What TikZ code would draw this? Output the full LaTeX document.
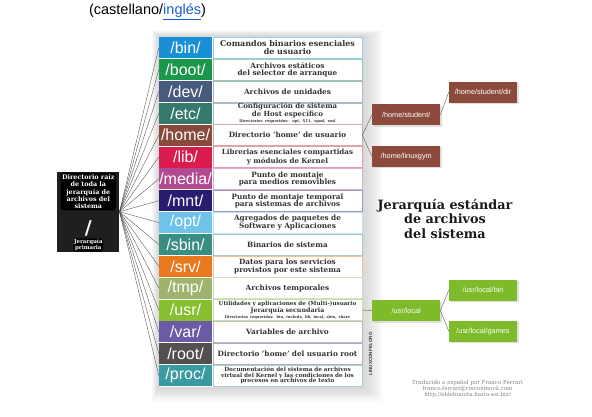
\documentclass[tikz,border=0pt]{standalone}
\usepackage{fontspec}
\setmainfont{DejaVu Serif}
\setsansfont{Liberation Sans}
\usetikzlibrary{shadows}

\definecolor{cbin}{HTML}{1A8FD6}
\definecolor{cboot}{HTML}{19974A}
\definecolor{cdev}{HTML}{485A7E}
\definecolor{cetc}{HTML}{367A6C}
\definecolor{chome}{HTML}{894A3C}
\definecolor{clib}{HTML}{D91C4C}
\definecolor{cmedia}{HTML}{B24A91}
\definecolor{cmnt}{HTML}{281C6E}
\definecolor{copt}{HTML}{6FC2EA}
\definecolor{csbin}{HTML}{3A8D82}
\definecolor{csrv}{HTML}{E8791E}
\definecolor{ctmp}{HTML}{9CB46E}
\definecolor{cusr}{HTML}{86C031}
\definecolor{cvar}{HTML}{6B5AA6}
\definecolor{croot}{HTML}{545050}
\definecolor{cproc}{HTML}{3A9AA2}
\definecolor{csubhome}{HTML}{8B4A3C}
\definecolor{csubusr}{HTML}{7DBB2A}
\definecolor{linkblue}{HTML}{1A5FD0}

\newcommand{\tinyline}[1]{{\fontsize{3.7}{4}\selectfont #1}}

\tikzset{
  dirbox/.style={rectangle, minimum width=53pt, minimum height=21pt, inner sep=0pt,
    text=white, font=\sffamily\fontsize{16}{16}\selectfont},
  descbox/.style={rectangle, fill=white, line width=0.5pt, minimum width=149pt,
    minimum height=21pt, inner sep=0pt, text width=147pt, align=center,
    text=black!80, font=\bfseries\fontsize{7.3}{7.4}\selectfont},
  desc bin/.style={font=\bfseries\fontsize{8}{8}\selectfont},
  desc etc/.style={font=\bfseries\fontsize{7}{6}\selectfont},
  desc lib/.style={font=\bfseries\fontsize{7.1}{6.8}\selectfont},
  desc usr/.style={font=\bfseries\fontsize{5.6}{6.2}\selectfont},
  desc proc/.style={font=\bfseries\fontsize{5.7}{5.7}\selectfont},
  subbox/.style={rectangle, minimum width=68pt, minimum height=21pt, inner sep=0pt,
    text=white, font=\sffamily\fontsize{7.3}{8}\selectfont,
    drop shadow={opacity=0.25, shadow xshift=1.5pt, shadow yshift=-1.5pt}},
  fan/.style={draw=black!70, line width=0.35pt},
}

\begin{document}
\begin{tikzpicture}[x=1pt, y=-1pt]
  \useasboundingbox (0,0) rectangle (592,416);

  % header
  \node[font=\sffamily\fontsize{14.5}{16}\selectfont, inner sep=0pt] (lang) at (147.5, 12)
    {(castellano/\textcolor{linkblue}{\underline{inglés}})};

  % soft shadow behind the table
  \foreach \k in {1,...,7}
    \fill[black, opacity=0.025] (159-\k, 37-\k) rectangle (362+3*\k, 387+2*\k);
  \fill[white] (159, 37) rectangle (362, 387);

  % root of the tree
  \node[fill=black!88, minimum width=62pt, minimum height=80pt, inner sep=0pt] (rootdir) at (88.3, 211.7) {};
  \node[fill=black, rounded corners=3pt, inner sep=1.5pt, align=center, text=white,
    font=\bfseries\fontsize{6.4}{7.4}\selectfont] (roottop) at (88.3, 191.5)
    {Directorio raíz\\de toda la\\jerarquía de\\archivos del\\sistema};
  \node[text=white, inner sep=0pt, font=\bfseries\fontsize{19}{19}\selectfont] (rootslash) at (88.3, 228.5) {/};
  \node[fill=black, rounded corners=3pt, inner sep=0.8pt, align=center, text=white,
    font=\bfseries\fontsize{5.4}{6.2}\selectfont] (rootbot) at (88.3, 245) {Jerarquía\\primaria};

  % directories
  \foreach \dir/\col/\desc [count=\i from 0] in {
      bin/cbin/{Comandos binarios esenciales\\de usuario},
      boot/cboot/{Archivos estáticos\\del selector de arranque},
      dev/cdev/{Archivos de unidades},
      etc/cetc/{Configuración de sistema\\de Host específico\\\tinyline{Directorios requeridos: opt, X11, sgml, xml}},
      home/chome/{Directorio 'home' de usuario},
      lib/clib/{Librerias esenciales compartidas\\y módulos de Kernel},
      media/cmedia/{Punto de montaje\\para medios removibles},
      mnt/cmnt/{Punto de montaje temporal\\para sistemas de archivos},
      opt/copt/{Agregados de paquetes de\\Software y Aplicaciones},
      sbin/csbin/{Binarios de sistema},
      srv/csrv/{Datos para los servicios\\provistos por este sistema},
      tmp/ctmp/{Archivos temporales},
      usr/cusr/{Utilidades y aplicaciones de (Multi-)usuario\\{\fontsize{6.3}{6.2}\selectfont Jerarquía secundaria}\\\tinyline{Directorios requeridos: bin, include, lib, local, sbin, share}},
      var/cvar/{Variables de archivo},
      root/croot/{Directorio 'home' del usuario root},
      proc/cproc/{Documentación del sistema de archivos\\virtual del Kernel y las condiciones de los\\procesos en archivos de texto}} {
    \node[dirbox, fill=\col] (n\dir) at (185.5, 47.8+21.85*\i) {/\dir/};
    \node[descbox, draw=\col!45, desc \dir/.try] (d\dir) at (287.5, 47.8+21.85*\i) {\desc};
    \draw[fan] (rootdir.east) -- (n\dir.west);
  }

  % /home subtree
  \node[subbox, fill=csubhome] (hstudent) at (406.2, 114.7) {/home/student/};
  \node[subbox, fill=csubhome] (hlinux) at (406.2, 156.4) {/home/linuxgym};
  \node[subbox, fill=csubhome] (hdir) at (483, 92) {/home/student/dir};
  \draw[fan] (dhome.east) -- (hstudent.west);
  \draw[fan] (dhome.east) -- (hlinux.west);
  \draw[fan] (hstudent.east) -- (hdir.west);

  % /usr subtree
  \node[subbox, fill=csubusr] (ulocal) at (406.2, 310.5) {/usr/local};
  \node[subbox, fill=csubusr] (ubin) at (483, 290.3) {/usr/local/bin};
  \node[subbox, fill=csubusr] (ugames) at (483, 331.3) {/usr/local/games};
  \draw[fan] (dusr.east) -- (ulocal.west);
  \draw[fan] (ulocal.east) -- (ubin.west);
  \draw[fan] (ulocal.east) -- (ugames.west);

  % title and credits
  \node[align=center, font=\bfseries\fontsize{12.8}{14.5}\selectfont, text=black!90] (title) at (445, 218.5)
    {Jerarquía estándar\\de archivos\\del sistema};
  \node[rotate=90, font=\sffamily\bfseries\fontsize{4.6}{5}\selectfont, text=black!75, inner sep=0pt] (site) at (370.5, 354)
    {LINUXCONFIG.ORG};
  \node[align=center, font=\fontsize{5.5}{5.6}\selectfont, text=black!50] (credit) at (467.5, 389)
    {Traducido a español por Franco Ferrari\\franco.ferrari@rinconmovil.com\\http://eldebianita.hazlo-asi.biz/};
\end{tikzpicture}
\end{document}
